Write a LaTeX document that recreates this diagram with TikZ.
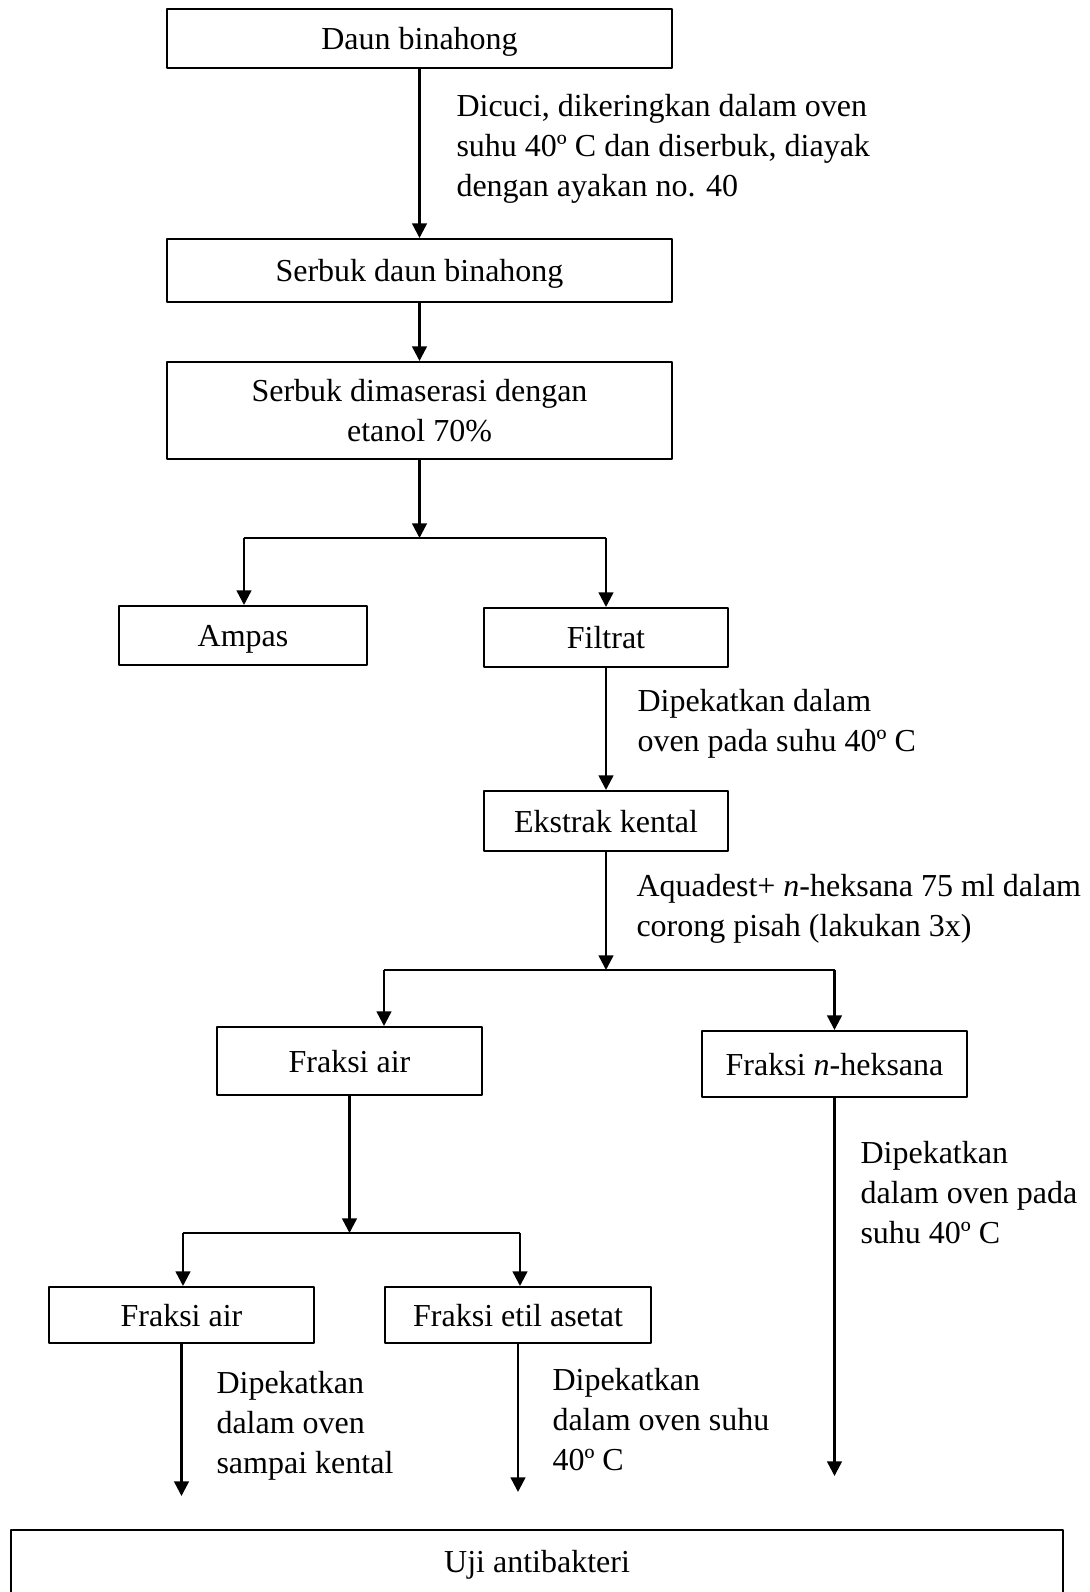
\documentclass[tikz,border=0pt]{standalone}
\usepackage{fontspec}
\setmainfont{Liberation Serif}
\usetikzlibrary{arrows.meta}

\begin{document}
\begin{tikzpicture}[x=0.375pt, y=-0.375pt, line join=round,
  boxbase/.style={draw, line width=0.75pt, inner sep=0pt, align=center, font=\fontsize{12pt}{15pt}\selectfont},
  box/.style={boxbase, text height=8.3pt, text depth=0pt},
  lbl/.style={anchor=west, inner sep=0pt, align=left, font=\fontsize{12pt}{15pt}\selectfont},
  link/.style={line width=0.9pt},
  arr/.style={line width=0.9pt, -{Triangle[length=5.5pt,width=5.5pt]}}]
\def\px{0.375pt}
\useasboundingbox (0,0) rectangle (1090,1592);
% main column
\node[box, minimum width=505*\px, minimum height=59*\px] (daun) at (419.5,38.5) {Daun binahong};
\node[box, minimum width=505*\px, minimum height=63*\px] (serbuk) at (419.5,270.5) {Serbuk daun binahong};
\node[boxbase, minimum width=505*\px, minimum height=97*\px] (maserasi) at (419.5,410.5) {Serbuk dimaserasi dengan\\etanol 70\%};
\node[box, minimum width=248*\px, minimum height=59*\px] (ampas) at (243,635.5) {Ampas};
\node[box, minimum width=244*\px, minimum height=59*\px] (filtrat) at (606,637.5) {Filtrat};
\node[box, minimum width=244*\px, minimum height=60*\px] (ekstrak) at (606,821) {Ekstrak kental};
% fractions
\node[box, minimum width=265*\px, minimum height=68*\px] (fair) at (349.5,1061) {Fraksi air};
\node[box, minimum width=265*\px, minimum height=66*\px] (fhek) at (834.5,1064) {Fraksi \textit{n}-heksana};
\node[box, minimum width=265*\px, minimum height=56*\px] (fair2) at (181.5,1315) {Fraksi air};
\node[box, minimum width=266*\px, minimum height=56*\px] (fetil) at (518,1315) {Fraksi etil asetat};
\node[box, text depth=6.4pt, minimum width=1052*\px, minimum height=80*\px] (uji) at (537,1570) {Uji antibakteri};

% steps
\draw[arr] (daun) -- (serbuk);
\node[lbl] (l1) at (456,149) {Dicuci, dikeringkan dalam oven\\suhu 40º C dan diserbuk, diayak\\dengan ayakan no. 40};
\draw[arr] (serbuk) -- (maserasi);

% split after maceration
\coordinate (s1) at (419.5,538);
\coordinate (s1l) at (244,538);
\coordinate (s1r) at (606,538);
\draw[arr] (maserasi) -- (s1);
\draw[link] (s1l) -- (s1r);
\draw[arr] (s1l) -- (s1l |- ampas.north);
\draw[arr] (s1r) -- (filtrat);

\draw[arr] (filtrat) -- (ekstrak);
\node[lbl] (l2) at (637,724) {Dipekatkan dalam\\oven pada suhu 40º C};

% liquid-liquid split
\coordinate (s2) at (606,970);
\coordinate (s2l) at (384,970);
\coordinate (s2r) at (834.5,970);
\draw[arr] (ekstrak) -- (s2);
\node[lbl] (l3) at (636,909) {Aquadest+ \textit{n}-heksana 75 ml dalam\\corong pisah (lakukan 3x)};
\draw[link] (s2l) -- (s2r);
\draw[arr] (s2l) -- (s2l |- fair.north);
\draw[arr] (s2r) -- (fhek);

% second split
\coordinate (s3) at (349.5,1233);
\coordinate (s3l) at (183,1233);
\coordinate (s3r) at (520,1233);
\draw[arr] (fair) -- (s3);
\draw[link] (s3l) -- (358,1233);
\draw[line width=0.4pt] (358,1233) -- (s3r);
\draw[arr] (s3l) -- (s3l |- fair2.north);
\draw[arr] (s3r) -- (s3r |- fetil.north);

% towards the test
\foreach \n/\e in {fair2/1496,fetil/1492,fhek/1476}{
  \coordinate (\n end) at (\n.south |- 0,\e);
  \draw[arr] (\n) -- (\n end);
}
\node[lbl] (l4) at (216,1426) {Dipekatkan\\dalam oven\\sampai kental};
\node[lbl] (l5) at (552,1420) {Dipekatkan\\dalam oven suhu\\40º C};
\node[lbl] (l6) at (860,1193) {Dipekatkan\\dalam oven pada\\suhu 40º C};
\end{tikzpicture}
\end{document}
